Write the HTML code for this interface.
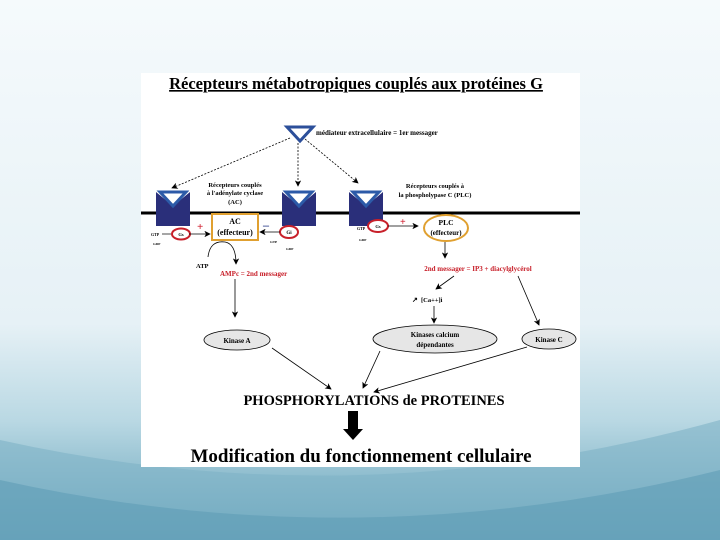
<!DOCTYPE html>
<html><head><meta charset="utf-8"><style>
html,body{margin:0;padding:0;width:720px;height:540px;overflow:hidden}
body{background:#eef6f9}
svg{position:absolute;left:0;top:0}
text{font-family:"Liberation Serif",serif;font-weight:bold}
</style></head><body>
<svg width="720" height="540" viewBox="0 0 720 540">
<defs>
<linearGradient id="bg" x1="0" y1="0" x2="0" y2="1">
<stop offset="0" stop-color="#f5fafc"/><stop offset="0.6" stop-color="#e6f1f6"/><stop offset="0.78" stop-color="#b9d8e3"/><stop offset="1" stop-color="#5f9fb7"/></linearGradient>
<marker id="a" markerWidth="8" markerHeight="8" refX="7" refY="4" orient="auto"><path d="M0,0 L8,4 L0,8 L2,4z" fill="#000"/></marker>
</defs>
<rect width="720" height="540" fill="url(#bg)"/>
<path d="M0,440 Q360,520 720,420 L720,540 L0,540z" fill="#7fb3c6" opacity="0.6"/>
<path d="M0,480 Q360,560 720,470 L720,540 L0,540z" fill="#5f9db5" opacity="0.6"/>
<rect x="141" y="73" width="439" height="394" fill="#fff"/>
<text x="356" y="89" font-size="16.5" text-anchor="middle" text-decoration="underline">Récepteurs métabotropiques couplés aux protéines G</text>
<path d="M287,127 L313,127 L300,141z" fill="#fff" stroke="#2c4f9a" stroke-width="3"/>
<text x="316" y="135" font-size="7">médiateur extracellulaire = 1er messager</text>
<g stroke="#000" stroke-width="0.8" stroke-dasharray="2,1.5" fill="none" marker-end="url(#a)">
<line x1="290" y1="138" x2="172" y2="188"/>
<line x1="298" y1="143" x2="298" y2="186"/>
<line x1="305" y1="139" x2="358" y2="183"/>
</g>
<line x1="141" y1="213" x2="580" y2="213" stroke="#000" stroke-width="3"/>
<g fill="#2a2f7a">
<path d="M156,192 L173,206 L190,192 L190,226 L156,226z"/>
<path d="M282,192 L299,206 L316,192 L316,226 L282,226z"/>
<path d="M349,192 L366,206 L383,192 L383,226 L349,226z"/>
</g>
<g fill="#fff" stroke="#2c5aa8" stroke-width="3">
<path d="M160,192 L186,192 L173,206z"/>
<path d="M286,192 L312,192 L299,206z"/>
<path d="M353,192 L379,192 L366,206z"/>
</g>
<text x="235" y="187" font-size="6.5" text-anchor="middle">Récepteurs couplés</text>
<text x="235" y="195" font-size="6.5" text-anchor="middle">à l'adénylate cyclase</text>
<text x="235" y="204" font-size="6.5" text-anchor="middle">(AC)</text>
<text x="435" y="188" font-size="6.5" text-anchor="middle">Récepteurs couplés à</text>
<text x="435" y="197" font-size="6.5" text-anchor="middle">la phospholypase C (PLC)</text>
<rect x="212" y="214" width="46" height="26" fill="#fff" stroke="#e0a030" stroke-width="2"/>
<text x="235" y="224" font-size="8" text-anchor="middle" font-weight="normal">AC</text>
<text x="235" y="235" font-size="8" text-anchor="middle" font-weight="normal">(effecteur)</text>
<ellipse cx="181" cy="234" rx="9" ry="5.5" fill="#fff" stroke="#c8202a" stroke-width="2"/>
<text x="181" y="236" font-size="4.5" text-anchor="middle">Gs</text>
<ellipse cx="289" cy="232" rx="9" ry="6" fill="#fff" stroke="#c8202a" stroke-width="2"/>
<text x="289" y="234" font-size="5" text-anchor="middle">Gi</text>
<text x="151" y="236" font-size="4">GTP</text><line x1="162" y1="234" x2="171" y2="234" stroke="#000" stroke-width="0.7"/>
<text x="153" y="245" font-size="3.5">GDP</text>
<text x="270" y="243" font-size="3.5">GTP</text><text x="286" y="250" font-size="3.5">GDP</text>
<line x1="189" y1="234" x2="210" y2="234" stroke="#000" stroke-width="0.8" marker-end="url(#a)"/>
<line x1="280" y1="232" x2="260" y2="232" stroke="#000" stroke-width="0.8" marker-end="url(#a)"/>
<text x="197" y="230" font-size="11" fill="#d02030" font-weight="normal">+</text>
<text x="263" y="229" font-size="12" fill="#2a3b8a">–</text>
<path d="M208,257 Q210,240 225,242 Q236,244 236,264" fill="none" stroke="#000" stroke-width="0.8" marker-end="url(#a)"/>
<text x="196" y="268" font-size="6.5">ATP</text>
<text x="220" y="276" font-size="7" fill="#c8202a">AMPc = 2nd messager</text>
<line x1="235" y1="279" x2="235" y2="317" stroke="#000" stroke-width="0.8" marker-end="url(#a)"/>
<ellipse cx="378" cy="226" rx="10" ry="6" fill="#fff" stroke="#c8202a" stroke-width="2"/>
<text x="378" y="228" font-size="4.5" text-anchor="middle">Gs</text>
<text x="357" y="230" font-size="4">GTP</text><text x="359" y="241" font-size="3.5">GDP</text>
<line x1="388" y1="226" x2="418" y2="226" stroke="#000" stroke-width="0.8" marker-end="url(#a)"/>
<text x="400" y="225" font-size="10" fill="#d02030" font-weight="normal">+</text>
<ellipse cx="446" cy="228" rx="22" ry="13" fill="#fff" stroke="#e0a030" stroke-width="2"/>
<text x="446" y="225" font-size="7.5" text-anchor="middle" font-weight="normal">PLC</text>
<text x="446" y="235" font-size="7" text-anchor="middle" font-weight="normal">(effecteur)</text>
<line x1="445" y1="242" x2="445" y2="258" stroke="#000" stroke-width="0.8" marker-end="url(#a)"/>
<text x="478" y="271" font-size="7" fill="#c8202a" text-anchor="middle">2nd messager = IP3 + diacylglycérol</text>
<line x1="454" y1="276" x2="436" y2="289" stroke="#000" stroke-width="0.8" marker-end="url(#a)"/>
<line x1="518" y1="276" x2="539" y2="325" stroke="#000" stroke-width="0.8" marker-end="url(#a)"/>
<text x="412" y="302" font-size="7">↗</text><text x="421" y="302" font-size="6.5" font-weight="normal">[Ca++]i</text>
<line x1="434" y1="306" x2="434" y2="323" stroke="#000" stroke-width="0.8" marker-end="url(#a)"/>
<g fill="#e6e6e6" stroke="#000" stroke-width="0.8">
<ellipse cx="237" cy="340" rx="33" ry="10"/>
<ellipse cx="435" cy="339" rx="62" ry="14"/>
<ellipse cx="549" cy="339" rx="27" ry="10"/>
</g>
<text x="237" y="343" font-size="7" text-anchor="middle">Kinase A</text>
<text x="435" y="337" font-size="7" text-anchor="middle">Kinases calcium</text>
<text x="435" y="347" font-size="7" text-anchor="middle">dépendantes</text>
<text x="549" y="342" font-size="7" text-anchor="middle">Kinase C</text>
<g stroke="#000" stroke-width="0.8" marker-end="url(#a)">
<line x1="272" y1="348" x2="331" y2="389"/>
<line x1="380" y1="351" x2="363" y2="388"/>
<line x1="527" y1="347" x2="374" y2="392"/>
</g>
<text x="374" y="405" font-size="14.5" text-anchor="middle">PHOSPHORYLATIONS de PROTEINES</text>
<rect x="348" y="411" width="10" height="20" fill="#000"/>
<path d="M343,429 L363,429 L353,440z" fill="#000"/>
<text x="361" y="462" font-size="19" text-anchor="middle">Modification du fonctionnement cellulaire</text>
</svg>
</body></html>
